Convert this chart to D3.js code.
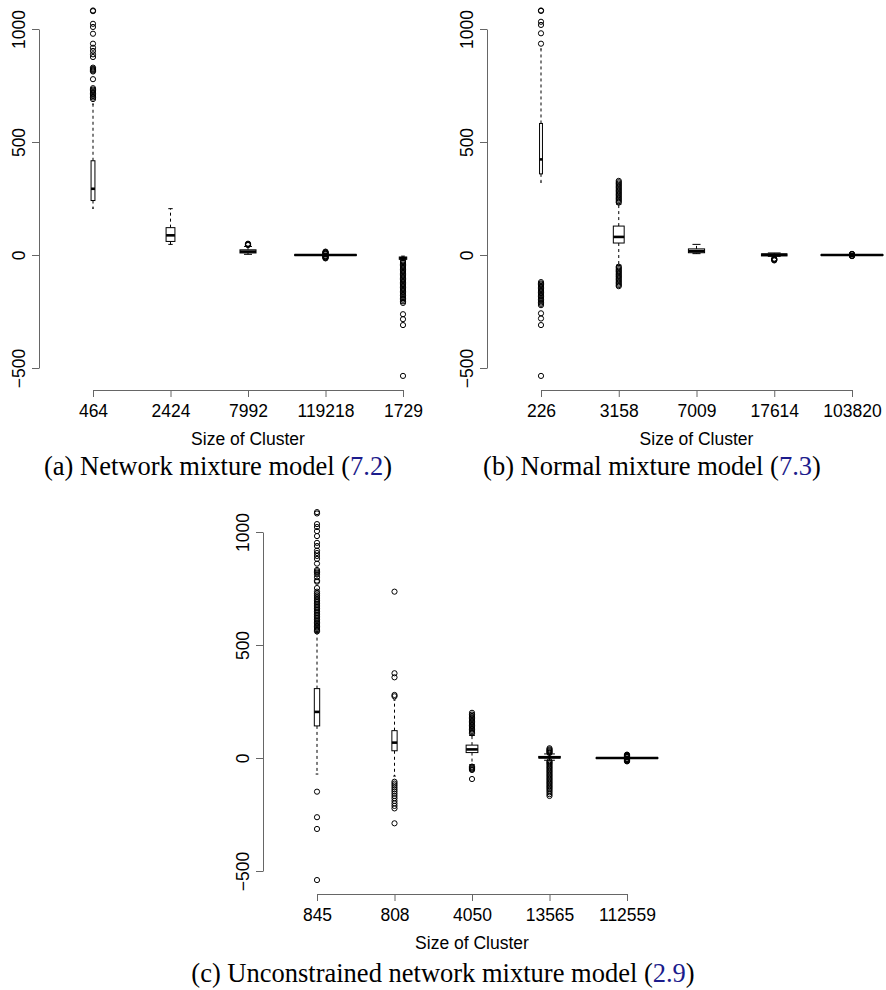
<!DOCTYPE html>
<html>
<head>
<meta charset="utf-8">
<title>Cluster boxplots</title>
<script src="https://cdn.jsdelivr.net/npm/d3@7"></script>
<style>
  body { margin: 0; background: #fff; }
  svg { display: block; }
</style>
</head>
<body>
<svg id="chart" width="886" height="990"></svg>
<script>
// ---- data ----
var sizesA = [464, 2424, 7992, 119218, 1729];
var loA  = [207, 47, 3, -2, -24];
var q1A  = [241, 60, 9, -1, -19];
var medA = [293, 87, 15, 0, -14];
var q3A  = [417, 121, 23, 1, -9];
var hiA  = [668, 205, 38, 2, -5];
var outA = [
  [1082, 1079, 1023, 1009, 979, 935, 917, 903, 888, 876, 829, 824, 820, 816, 812, 778, 738, 732, 727, 721, 715, 709, 703, 697, 690],
  [],
  [44, 46, 48, 50],
  [-15, -13, -11, -9, -7, -5, -3, 3, 5, 7, 9, 11, 13, 15],
  [-26, -31, -36, -42, -47, -53, -58, -64, -70, -75, -81, -87, -92, -98, -104, -109, -115, -121, -127, -132, -138, -144, -150, -155, -161, -167, -173, -179, -186, -192, -198, -205, -212, -262, -284, -310, -535]
];

var sizesB = [226, 3158, 7009, 17614, 103820];
var loB  = [322, -45, 6, -6, -2];
var q1B  = [359, 53, 10, -4, -1];
var medB = [423, 80, 17, 1, 0];
var q3B  = [582, 128, 27, 5, 1];
var hiB  = [912, 225, 47, 9, 2];
var outB = [
  [1082, 1080, 1032, 1018, 981, 935, -120, -126, -131, -137, -143, -149, -155, -160, -166, -172, -178, -184, -190, -197, -203, -210, -216, -222, -258, -281, -310, -535],
  [232, 238, 244, 250, 256, 262, 268, 274, 280, 286, 292, 298, 304, 310, 316, 322, 328, -52, -57, -63, -69, -74, -80, -86, -92, -97, -103, -109, -115, -121, -127, -133, -138],
  [],
  [-16, -18, -20, -22, -24],
  [-5, -4, -3, 3, 4, 5]
];

var sizesC = [845, 808, 4050, 13565, 112559];
var loC  = [-71, -80, -30, -10, -2];
var q1C  = [142, 32, 24, 0, -1];
var medC = [204, 68, 38, 3, 0];
var q3C  = [307, 121, 57, 7, 1];
var hiC  = [557, 257, 100, 18, 2];
var outC = [
  [1088, 1082, 1035, 1022, 1004, 982, 952, 938, 918, 907, 894, 881, 860, 832, 826, 820, 813, 800, 785, 780, 752, 736, 728, 720, 712, 704, 696, 690, 683, 676, 669, 662, 655, 648, 641, 634, 627, 620, 613, 606, 600, 594, 588, 582, 576, 570, 565, 560, -149, -262, -314, -540],
  [736, 375, 357, 279, 273, -105, -113, -121, -130, -139, -148, -158, -168, -178, -190, -201, -212, -223, -289],
  [109, 114, 120, 126, 132, 138, 144, 150, 156, 162, 168, 174, 180, 186, 192, 200, -38, -42, -46, -50, -53, -93],
  [22, 26, 30, 34, 38, 43, -14, -19, -24, -30, -36, -42, -48, -54, -60, -66, -72, -78, -84, -90, -96, -102, -108, -114, -120, -126, -132, -138, -145, -152, -160, -168],
  [-15, -13, -11, -9, -7, -5, -3, 3, 5, 7, 9, 11, 13, 15]
];

var yTicks = [-500, 0, 500, 1000];
var xTitle = "Size of Cluster";

var svg = d3.select("#chart");
svg.append("rect").attr("width", 886).attr("height", 990).attr("fill", "#fff");

function panel(opt) {
  var g = svg.append("g");
  var y = d3.scaleLinear().domain([-500, 1000]).range([opt.yBottom, opt.yTop]);
  var x = d3.scalePoint().domain(opt.sizes.map(String)).range([opt.xFirst, opt.xLast]);
  var step = x.step();
  var nmax = d3.max(opt.sizes);
  var axisCol = "#666";

  // y axis
  var ya = g.append("g")
      .attr("transform", "translate(" + opt.axisX + ",0)")
      .call(d3.axisLeft(y).tickValues(yTicks).tickSize(7).tickSizeOuter(0).tickFormat(d3.format("d")));
  ya.selectAll("path, line").attr("stroke", axisCol);
  ya.selectAll("text")
      .attr("x", 0).attr("dy", 0)
      .attr("text-anchor", "middle")
      .attr("transform", "translate(-14,0) rotate(-90)")
      .attr("fill", "#000")
      .style("font", "17.5px 'Liberation Sans', Arial, sans-serif")
      .text(function(d) { return d < 0 ? "\u2212" + Math.abs(d) : d; });

  // x axis
  var xa = g.append("g")
      .attr("transform", "translate(0," + opt.axisY + ")")
      .call(d3.axisBottom(x).tickSize(7).tickSizeOuter(0));
  xa.selectAll("path, line").attr("stroke", axisCol);
  xa.selectAll("text")
      .attr("y", 27).attr("dy", 0)
      .attr("fill", "#000")
      .style("font", "17.5px 'Liberation Sans', Arial, sans-serif");

  g.append("text")
      .attr("x", (opt.xFirst + opt.xLast) / 2)
      .attr("y", opt.axisY + 55)
      .attr("text-anchor", "middle")
      .style("font", "17.5px 'Liberation Sans', Arial, sans-serif")
      .text(xTitle);

  // boxes
  opt.sizes.forEach(function(n, i) {
    var cx = x(String(n));
    var w = 0.8 * step * Math.sqrt(n / nmax);
    var b = g.append("g");
    // whiskers
    b.append("line").attr("x1", cx).attr("x2", cx)
      .attr("y1", y(opt.q3[i])).attr("y2", y(opt.hi[i]))
      .attr("stroke", "#000").attr("stroke-width", 1).attr("stroke-dasharray", "3,3");
    b.append("line").attr("x1", cx).attr("x2", cx)
      .attr("y1", y(opt.q1[i])).attr("y2", y(opt.lo[i]))
      .attr("stroke", "#000").attr("stroke-width", 1).attr("stroke-dasharray", "3,3");
    [opt.lo[i], opt.hi[i]].forEach(function(v) {
      b.append("line").attr("x1", cx - w / 4).attr("x2", cx + w / 4)
        .attr("y1", y(v)).attr("y2", y(v))
        .attr("stroke", "#000").attr("stroke-width", 1);
    });
    // box
    b.append("rect")
      .attr("x", cx - w / 2).attr("width", w)
      .attr("y", y(opt.q3[i])).attr("height", Math.max(0.5, y(opt.q1[i]) - y(opt.q3[i])))
      .attr("fill", "#fff").attr("stroke", "#000").attr("stroke-width", 1);
    b.append("line").attr("x1", cx - w / 2).attr("x2", cx + w / 2)
      .attr("y1", y(opt.med[i])).attr("y2", y(opt.med[i]))
      .attr("stroke", "#000").attr("stroke-width", 2.6);
    // outliers
    b.selectAll("circle").data(opt.out[i]).enter().append("circle")
      .attr("cx", cx).attr("cy", function(d) { return y(d); })
      .attr("r", 2.6)
      .attr("fill", "none").attr("stroke", "#000").attr("stroke-width", 1);
  });

  // caption
  var cap = svg.append("text")
      .attr("x", opt.capX).attr("y", opt.capY)
      .attr("text-anchor", "middle")
      .style("font", "26.5px 'Liberation Serif', 'Times New Roman', serif")
      .attr("fill", "#000");
  cap.append("tspan").text(opt.caption + " (");
  cap.append("tspan").attr("fill", "#1c1c8c").text(opt.eq);
  cap.append("tspan").text(")");
}

panel({
  sizes: sizesA, lo: loA, q1: q1A, med: medA, q3: q3A, hi: hiA, out: outA,
  axisX: 39, axisY: 390, yTop: 29, yBottom: 368, xFirst: 93, xLast: 403,
  caption: "(a) Network mixture model", eq: "7.2", capX: 218, capY: 475
});
panel({
  sizes: sizesB, lo: loB, q1: q1B, med: medB, q3: q3B, hi: hiB, out: outB,
  axisX: 487, axisY: 390, yTop: 29, yBottom: 368, xFirst: 541, xLast: 852,
  caption: "(b) Normal mixture model", eq: "7.3", capX: 652, capY: 475
});
panel({
  sizes: sizesC, lo: loC, q1: q1C, med: medC, q3: q3C, hi: hiC, out: outC,
  axisX: 263, axisY: 894, yTop: 532, yBottom: 871, xFirst: 317, xLast: 627,
  caption: "(c) Unconstrained network mixture model", eq: "2.9", capX: 443, capY: 982
});
</script>
</body>
</html>
